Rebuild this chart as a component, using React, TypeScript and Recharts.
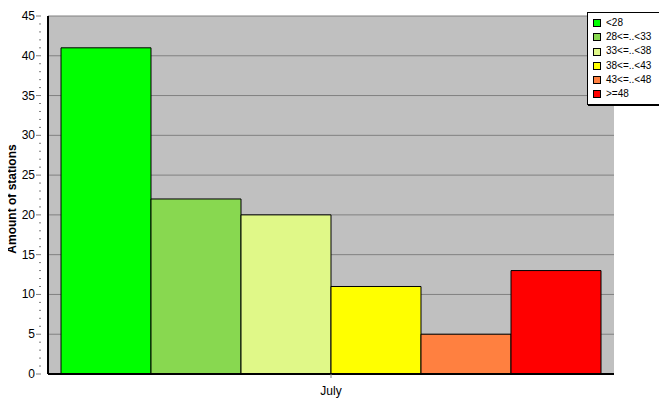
import { Bar, BarChart, CartesianGrid, XAxis, YAxis } from "recharts";

const CATEGORIES = ["July"];
const SERIES_NAMES = ["<28", "28<=..<33", "33<=..<38", "38<=..<43", "43<=..<48", ">=48"];
const SERIES_VALUES = [41, 22, 20, 11, 5, 13];
const SERIES_COLORS = ["#00ff00", "#88d850", "#e0f888", "#ffff00", "#ff8040", "#ff0000"];
const MAJOR_TICKS = [0, 5, 10, 15, 20, 25, 30, 35, 40, 45];
const ALL_TICKS = Array.from({ length: 46 }, (_, i) => i);

const FONT = "'Liberation Sans', Arial, sans-serif";

const data = CATEGORIES.map((name) => {
  const row: Record<string, string | number> = { name };
  SERIES_NAMES.forEach((s, i) => (row[`s${i}`] = SERIES_VALUES[i]));
  return row;
});

function YTick(props: any) {
  const { x, y, payload } = props;
  const major = payload.value % 5 === 0;
  return (
    <g>
      <line x1={x + 1 - (major ? 5 : 2)} x2={x + 1} y1={y} y2={y} stroke="#808080" />
      {major && (
        <text x={x - 5} y={y} dy={4} textAnchor="end" fontSize={12} fontFamily={FONT} fill="#000">
          {payload.value}
        </text>
      )}
    </g>
  );
}

function LegendBox() {
  return (
    <div
      style={{
        position: "absolute",
        left: 587,
        top: 12,
        width: 73,
        border: "1px solid #000",
        background: "#fff",
        boxShadow: "1px 1px 0 #000",
        padding: "3px 0 3px 5px",
        fontFamily: FONT,
        fontSize: 10,
        lineHeight: "14.2px",
        boxSizing: "border-box",
      }}
    >
      {SERIES_NAMES.map((n, i) => (
        <div key={n} style={{ display: "flex", alignItems: "center", whiteSpace: "nowrap" }}>
          <span
            style={{
              display: "inline-block",
              width: 6,
              height: 6,
              border: "1px solid #000",
              background: SERIES_COLORS[i],
              marginRight: 5,
            }}
          />
          {n}
        </div>
      ))}
    </div>
  );
}

export default function App() {
  return (
    <div style={{ margin: -8, width: 667, height: 415, background: "#fff", position: "relative" }}>
      <BarChart
        width={667}
        height={415}
        data={data}
        margin={{ top: 16, right: 53, bottom: 11, left: 0 }}
        barCategoryGap={13}
        barGap={0}
      >
        <CartesianGrid vertical={false} stroke="#808080" fill="#c0c0c0" horizontalValues={MAJOR_TICKS} />
        <XAxis
          dataKey="name"
          height={30}
          axisLine={{ stroke: "#000", strokeWidth: 2 }}
          tickLine={{ stroke: "#808080" }}
          tickSize={4}
          tick={{ fontSize: 12, fontFamily: FONT, fill: "#000" }}
          tickMargin={8}
        />
        <XAxis xAxisId="top" dataKey="name" orientation="top" height={0} tick={false} tickLine={false} axisLine={{ stroke: "#000" }} />
        <YAxis
          width={48}
          domain={[0, 45]}
          ticks={ALL_TICKS}
          interval={0}
          axisLine={{ stroke: "#000", strokeWidth: 2 }}
          tickLine={false}
          tick={<YTick />}
          label={{
            value: "Amount of stations",
            content: () => (
              <text
                x={16}
                y={199}
                transform="rotate(-90 16 199)"
                textAnchor="middle"
                fontSize={12}
                fontWeight="bold"
                fontFamily={FONT}
                fill="#000"
              >
                Amount of stations
              </text>
            ),
          }}
        />
        <YAxis yAxisId="right" orientation="right" width={0} domain={[0, 45]} tick={false} tickLine={false} axisLine={{ stroke: "#000" }} />
        {SERIES_NAMES.map((n, i) => (
          <Bar key={n} dataKey={`s${i}`} name={n} fill={SERIES_COLORS[i]} stroke="#000" strokeWidth={1} isAnimationActive={false} />
        ))}
      </BarChart>
      <LegendBox />
    </div>
  );
}
